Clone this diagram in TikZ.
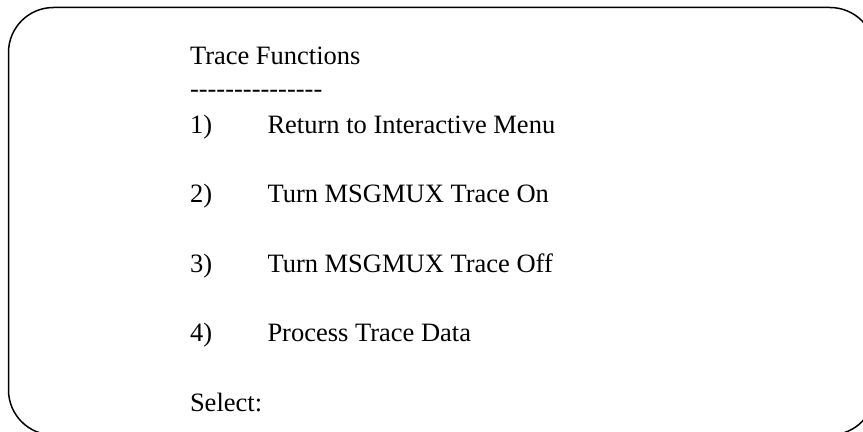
\documentclass[tikz,border=0pt]{standalone}
\usepackage{fontspec}
\setmainfont{Liberation Serif}
\newcommand\onehyph{-\kern0pt\relax}
\begin{document}
\begin{tikzpicture}[x=0.5pt,y=-0.5pt,
  menutext/.style={anchor=base west,inner sep=0pt,outer sep=0pt,font=\fontsize{13.25pt}{15pt}\selectfont},
  frame/.style={draw=black,line width=0.75pt,rounded corners=22.5pt}]
\useasboundingbox (0,0) rectangle (863,432);
\clip (0,0) rectangle (863,432);
\fill[white] (0,0) rectangle (863,432);
\draw[frame] (8.5,7.5) rectangle (875,435);
\node[menutext] (title) at (190,65) {Trace Functions};
\node[menutext] (rule) at (190,98) {\onehyph\onehyph\onehyph\onehyph\onehyph\onehyph\onehyph\onehyph\onehyph\onehyph\onehyph\onehyph\onehyph\onehyph\onehyph};
\node[menutext] (n1) at (190,133.5) {1)};
\node[menutext] (t1) at (267.5,133.5) {Return to Interactive Menu};
\node[menutext] (n2) at (190,203) {2)};
\node[menutext] (t2) at (267.5,203) {Turn MSGMUX Trace On};
\node[menutext] (n3) at (190,272.5) {3)};
\node[menutext] (t3) at (267.5,272.5) {Turn MSGMUX Trace Off};
\node[menutext] (n4) at (190,341.5) {4)};
\node[menutext] (t4) at (267.5,341.5) {Process Trace Data};
\node[menutext] (sel) at (190,411.5) {Select:};
\end{tikzpicture}
\end{document}
